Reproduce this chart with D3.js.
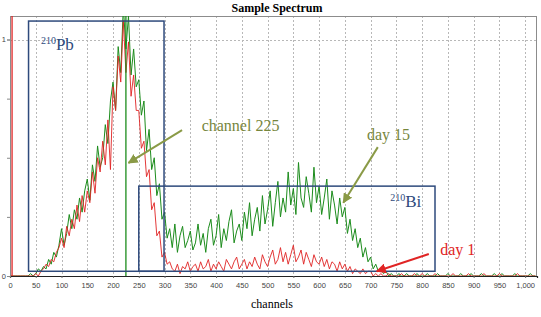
<!DOCTYPE html>
<html>
<head>
<meta charset="utf-8">
<script src="https://cdn.jsdelivr.net/npm/d3@7"></script>
<style>
  html, body { margin: 0; padding: 0; background: #fff; }
  svg { display: block; }
</style>
</head>
<body>
<svg id="chart" width="541" height="317"></svg>
<script>
const channelStep = 5;

// normalised counts, one value every 5 channels starting at channel 0 (day 15)
const day15 = [
  0, 0, 0, 0, 0, 0, 0, 0, 0.01, 0,
  0.01, 0.03, 0.02, 0.04, 0.03, 0.07, 0.05, 0.1, 0.08, 0.13,
  0.2, 0.13, 0.18, 0.26, 0.2, 0.28, 0.24, 0.33, 0.27, 0.36,
  0.41, 0.32, 0.47, 0.4, 0.55, 0.46, 0.5, 0.64, 0.56, 0.74,
  0.82, 0.7, 0.97, 0.86, 1.14, 0.96, 1.1, 0.85, 0.96, 0.8,
  0.83, 0.68, 0.74, 0.53, 0.62, 0.45, 0.5, 0.34, 0.39, 0.24,
  0.27, 0.16, 0.2, 0.12, 0.22, 0.1, 0.17, 0.21, 0.12, 0.15,
  0.19, 0.11, 0.14, 0.22, 0.13, 0.18, 0.1, 0.2, 0.24, 0.13,
  0.17, 0.26, 0.12, 0.2, 0.15, 0.23, 0.28, 0.14, 0.19, 0.22,
  0.15, 0.27, 0.2, 0.31, 0.17, 0.24, 0.29, 0.19, 0.34, 0.22,
  0.28, 0.36, 0.21, 0.31, 0.4, 0.25, 0.33, 0.27, 0.44, 0.3,
  0.37, 0.26, 0.48, 0.33, 0.29, 0.42, 0.35, 0.27, 0.46, 0.31,
  0.38, 0.26, 0.33, 0.41, 0.24, 0.36, 0.3, 0.22, 0.33, 0.25,
  0.29, 0.18, 0.24, 0.15, 0.2, 0.12, 0.16, 0.08, 0.12, 0.06,
  0.08, 0.03, 0.05, 0.02, 0.03, 0.01, 0.02, 0, 0.01, 0,
  0, 0.01, 0, 0, 0.01, 0, 0, 0, 0.01, 0,
  0, 0, 0.01, 0, 0, 0, 0.01, 0, 0, 0,
  0.01, 0, 0, 0, 0, 0.01, 0, 0, 0, 0.01,
  0, 0, 0, 0.01, 0, 0, 0, 0, 0.01, 0,
  0, 0.01, 0, 0, 0, 0, 0.01, 0, 0, 0,
  0, 0, 0.01, 0, 0
];

// same, day 1
const day1 = [
  0, 0, 0, 0, 0, 0, 0, 0, 0, 0,
  0.01, 0, 0.02, 0.03, 0.05, 0.04, 0.07, 0.06, 0.1, 0.12,
  0.16, 0.12, 0.21, 0.17, 0.24, 0.2, 0.3, 0.23, 0.34, 0.27,
  0.36, 0.31, 0.44, 0.35, 0.5, 0.44, 0.57, 0.47, 0.66, 0.45,
  0.8, 0.7, 0.93, 0.82, 1.08, 0.86, 0.99, 0.76, 0.85, 0.7,
  0.7, 0.54, 0.57, 0.42, 0.45, 0.28, 0.31, 0.17, 0.19, 0.08,
  0.1, 0.05, 0.06, 0.03, 0.02, 0.05, 0.01, 0.04, 0.03, 0.06,
  0.02, 0.04, 0.05, 0.02, 0.06, 0.03, 0.04, 0.07, 0.02, 0.05,
  0.03, 0.06, 0.04, 0.02, 0.07, 0.05, 0.03, 0.06, 0.08, 0.03,
  0.05, 0.07, 0.03, 0.06, 0.04, 0.08, 0.05, 0.03, 0.09, 0.06,
  0.04, 0.08, 0.11, 0.05, 0.07, 0.12, 0.06, 0.1, 0.05, 0.09,
  0.13, 0.06, 0.08, 0.11, 0.05, 0.1, 0.07, 0.04, 0.09, 0.06,
  0.05, 0.08, 0.04, 0.07, 0.03, 0.06, 0.05, 0.02, 0.06, 0.03,
  0.05, 0.02, 0.04, 0.01, 0.03, 0.02, 0.01, 0.03, 0.01, 0.02,
  0.02, 0, 0.01, 0, 0.01, 0, 0, 0.01, 0, 0,
  0, 0, 0.01, 0, 0, 0, 0, 0.01, 0, 0,
  0.01, 0, 0, 0, 0, 0.01, 0, 0, 0, 0,
  0, 0, 0.01, 0, 0, 0, 0, 0, 0.01, 0,
  0, 0, 0, 0, 0.01, 0, 0, 0, 0, 0,
  0.01, 0, 0, 0, 0, 0, 0, 0.01, 0, 0,
  0, 0, 0, 0, 0
];

const xTicks = [0, 50, 100, 150, 200, 250, 300, 350, 400, 450, 500, 550, 600, 650, 700, 750, 800, 850, 900, 950, 1000];
const yTicks = [0, 0.25, 0.5, 0.75, 1];
const yTickLabels = ["0", "", "", "", "1"];

// regions of interest: [channel from, channel to, level from, level to]
const pbRegion = [36, 299, 0.02, 1.078];
const biRegion = [250, 825, 0.02, 0.38];
const markerChannel = 225;
const redSpikeChannel = 4;

const svg = d3.select("#chart");
const margin = { left: 10, right: 4, top: 16, bottom: 41 };
const W = 541, H = 317;

const x = d3.scaleLinear().domain([0, 1023]).range([margin.left, W - margin.right]);
const y = d3.scaleLinear().domain([0, 1]).range([H - margin.bottom, 39.5]);

const serif = "'Liberation Serif', 'Times New Roman', serif";
const sans = "'Liberation Sans', Arial, sans-serif";

// title (the original is cropped at the very top)
svg.append("text")
  .attr("x", 277).attr("y", 12)
  .attr("text-anchor", "middle")
  .attr("font-family", serif).attr("font-weight", "bold")
  .attr("font-size", 12)
  .text("Sample Spectrum");

svg.append("clipPath").attr("id", "plot-clip")
  .append("rect")
  .attr("x", margin.left).attr("y", margin.top)
  .attr("width", W - margin.right - margin.left)
  .attr("height", H - margin.bottom - margin.top);

// grid
svg.append("g").selectAll("line")
  .data(xTicks.filter(d => d > 0))
  .join("line")
  .attr("x1", d => Math.round(x(d)) + 0.5).attr("x2", d => Math.round(x(d)) + 0.5)
  .attr("y1", margin.top).attr("y2", H - margin.bottom)
  .attr("stroke", "#b8b8b8").attr("stroke-dasharray", "2,2");

svg.append("line")
  .attr("x1", margin.left).attr("x2", W - margin.right)
  .attr("y1", Math.round(y(1)) + 0.5).attr("y2", Math.round(y(1)) + 0.5)
  .attr("stroke", "#b8b8b8").attr("stroke-dasharray", "2,2");

// frame
svg.append("rect")
  .attr("x", margin.left + 0.5).attr("y", margin.top + 0.5)
  .attr("width", W - margin.right - margin.left - 1)
  .attr("height", H - margin.bottom - margin.top)
  .attr("fill", "none").attr("stroke", "#8c8c8c");

const plot = svg.append("g").attr("clip-path", "url(#plot-clip)");

const line = d3.line()
  .x((d, i) => x(i * channelStep))
  .y(d => y(d));

plot.append("path").datum(day15)
  .attr("d", line)
  .attr("fill", "none").attr("stroke", "#1c8c1c").attr("stroke-width", 1);

plot.append("path").datum(day1)
  .attr("d", line)
  .attr("fill", "none").attr("stroke", "#e02424").attr("stroke-width", 1)
  .attr("stroke-opacity", 0.9);

// marker lines
plot.append("line")
  .attr("x1", x(markerChannel)).attr("x2", x(markerChannel))
  .attr("y1", margin.top).attr("y2", H - margin.bottom)
  .attr("stroke", "#1c8c1c").attr("stroke-width", 1.3);

plot.append("line")
  .attr("x1", x(redSpikeChannel)).attr("x2", x(redSpikeChannel))
  .attr("y1", margin.top).attr("y2", H - margin.bottom)
  .attr("stroke", "#e02424").attr("stroke-width", 1.3);

// axes
const xAxis = d3.axisBottom(x)
  .tickValues(xTicks)
  .tickSize(2)
  .tickFormat(d3.format(","));
const gx = svg.append("g")
  .attr("transform", `translate(0,${H - margin.bottom})`)
  .call(xAxis);
gx.select(".domain").attr("stroke", "#222").attr("stroke-width", 1.2);
gx.selectAll(".tick line").attr("stroke", "#666");
gx.selectAll("text")
  .attr("font-family", sans).attr("font-size", 7.5)
  .attr("fill", "#444").attr("dy", "0.95em");

const yAxis = d3.axisLeft(y)
  .tickValues(yTicks)
  .tickSize(3)
  .tickFormat((d, i) => yTickLabels[i]);
const gy = svg.append("g")
  .attr("transform", `translate(${margin.left},0)`)
  .call(yAxis);
gy.select(".domain").attr("stroke", "#8c8c8c");
gy.selectAll(".tick line").attr("stroke", "#888");
gy.selectAll("text")
  .attr("font-family", sans).attr("font-size", 7.5)
  .attr("fill", "#444").attr("x", -4);

svg.append("text")
  .attr("x", 272).attr("y", 308)
  .attr("text-anchor", "middle")
  .attr("font-family", serif).attr("font-size", 12)
  .text("channels");

// regions
const navy = "#2e4a7c";
[pbRegion, biRegion].forEach(r => {
  svg.append("rect")
    .attr("x", x(r[0])).attr("y", y(r[3]))
    .attr("width", x(r[1]) - x(r[0]))
    .attr("height", y(r[2]) - y(r[3]))
    .attr("fill", "none").attr("stroke", navy).attr("stroke-width", 1.5);
});

function isotope(px, py, mass, sym) {
  const t = svg.append("text")
    .attr("x", px).attr("y", py)
    .attr("font-family", serif).attr("fill", navy);
  t.append("tspan").attr("font-size", 10).attr("dy", -6).text(mass);
  t.append("tspan").attr("font-size", 17).attr("dy", 6).text(sym);
}
isotope(x(60), y(0.955), "210", "Pb");
isotope(x(738), y(0.29), "210", "Bi");

// annotations
const olive = "#76863c";
const red = "#e02424";
const defs = svg.append("defs");
[["head-olive", "#8a9a46"], ["head-red", red]].forEach(([id, c]) => {
  defs.append("marker")
    .attr("id", id)
    .attr("viewBox", "0 0 10 10")
    .attr("refX", 9).attr("refY", 5)
    .attr("markerWidth", 5).attr("markerHeight", 5)
    .attr("orient", "auto")
    .append("path")
    .attr("d", "M0,0L10,5L0,10z")
    .attr("fill", c);
});

function arrow(c0, v0, c1, v1, color, head) {
  svg.append("line")
    .attr("x1", x(c0)).attr("y1", y(v0))
    .attr("x2", x(c1)).attr("y2", y(v1))
    .attr("stroke", color).attr("stroke-width", 2)
    .attr("marker-end", `url(#${head})`);
}

arrow(334, 0.617, 230, 0.478, "#8a9a46", "head-olive");
arrow(714, 0.545, 647, 0.31, "#8a9a46", "head-olive");
arrow(813, 0.093, 712, 0.02, red, "head-red");

function label(ch, v, text, color) {
  svg.append("text")
    .attr("x", x(ch)).attr("y", y(v))
    .attr("font-family", serif).attr("font-size", 16)
    .attr("fill", color)
    .text(text);
}
label(372, 0.615, "channel 225", olive);
label(693, 0.575, "day 15", olive);
label(835, 0.09, "day 1", red);
</script>
</body>
</html>
